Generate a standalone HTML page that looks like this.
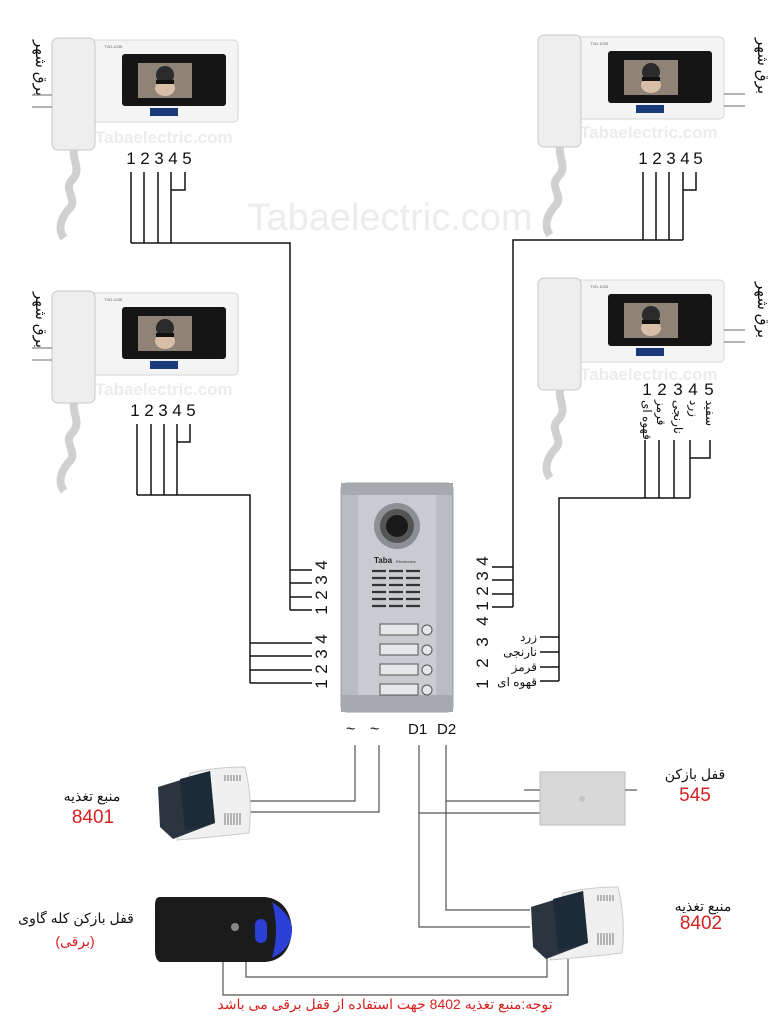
<!DOCTYPE html>
<html><head><meta charset="utf-8"><style>
html,body{margin:0;padding:0;background:#fff}
svg{display:block}
text{font-family:"Liberation Sans","Noto Sans CJK SC",sans-serif}
</style></head><body>
<svg width="781" height="1024" viewBox="0 0 781 1024" xmlns="http://www.w3.org/2000/svg">
<defs>
<g id="mon">
  <rect x="0" y="0" width="186" height="82" rx="4" fill="#f4f4f4" stroke="#d6d6d6"/>
  <rect x="0" y="-2" width="43" height="112" rx="6" fill="#eeeeee" stroke="#c8c8c8"/>
  <text x="52" y="8" font-size="4" fill="#666">TVD-1035</text>
  <rect x="70" y="14" width="104" height="52" rx="3" fill="#151515"/>
  <rect x="86" y="23" width="54" height="35" fill="#8f8378"/>
  <circle cx="113" cy="35" r="9" fill="#2b2b2b"/>
  <ellipse cx="113" cy="48" rx="10" ry="8" fill="#d9bfa8"/>
  <rect x="104" y="40" width="18" height="4" fill="#111"/>
  <rect x="98" y="68" width="28" height="8" fill="#1a3a7a"/>
  <path d="M22 110 c-2 10 8 20 -2 30 c-10 10 8 20 -4 30 c-8 10 -10 20 -4 28" stroke="#d0d0d0" stroke-width="8" fill="none"/>
</g>
<g id="psu">
  <path d="M35 8 Q60 2 90 2 Q98 35 94 68 Q60 72 22 75 Z" fill="#f0f0f0" stroke="#ccc"/>
  <g stroke="#777" stroke-width="1"><path d="M70 10v6M73 10v6M76 10v6M79 10v6M82 10v6M85 10v6"/><path d="M70 48v12M73 48v12M76 48v12M79 48v12M82 48v12M85 48v12"/></g>
  <path d="M3 22 L55 6 L60 58 L18 74 L5 62 Z" fill="#2b3540"/>
  <path d="M25 14 L55 6 L60 58 L30 66 Z" fill="#1d2a38"/>
</g>
</defs>

<!-- watermarks -->
<text x="390" y="230" font-size="38" fill="#ececec" text-anchor="middle">Tabaelectric.com</text>
<g font-size="17" fill="#ececec" font-weight="bold">
<text x="95" y="143">Tabaelectric.com</text>
<text x="95" y="395">Tabaelectric.com</text>
<text x="580" y="138">Tabaelectric.com</text>
<text x="580" y="380">Tabaelectric.com</text>
</g>

<use href="#mon" transform="translate(52,40)"/>
<use href="#mon" transform="translate(52,293)"/>
<use href="#mon" transform="translate(538,37)"/>
<use href="#mon" transform="translate(538,280)"/>

<g font-size="15" fill="#111">
<text transform="translate(36,40) rotate(90)">برق شهر</text>
<text transform="translate(36,292) rotate(90)">برق شهر</text>
<text transform="translate(758,38) rotate(90)">برق شهر</text>
<text transform="translate(758,282) rotate(90)">برق شهر</text>
</g>
<g stroke="#888" stroke-width="1.2">
<line x1="32" y1="95" x2="52" y2="95"/><line x1="32" y1="107" x2="52" y2="107"/>
<line x1="32" y1="348" x2="52" y2="348"/><line x1="32" y1="360" x2="52" y2="360"/>
<line x1="724" y1="94" x2="745" y2="94"/><line x1="724" y1="106" x2="745" y2="106"/>
<line x1="724" y1="330" x2="745" y2="330"/><line x1="724" y1="342" x2="745" y2="342"/>
</g>

<!-- numbers -->
<g font-size="17" fill="#111" text-anchor="middle">
<text x="131" y="164">1</text><text x="145" y="164">2</text><text x="159" y="164">3</text><text x="173" y="164">4</text><text x="187" y="164">5</text>
<text x="135" y="416">1</text><text x="149" y="416">2</text><text x="163" y="416">3</text><text x="177" y="416">4</text><text x="191" y="416">5</text>
<text x="643" y="164">1</text><text x="657" y="164">2</text><text x="671" y="164">3</text><text x="685" y="164">4</text><text x="698" y="164">5</text>
<text x="647" y="395">1</text><text x="662" y="395">2</text><text x="678" y="395">3</text><text x="693" y="395">4</text><text x="709" y="395">5</text>
</g>
<g font-size="12" fill="#111">
<text transform="translate(643,400) rotate(90)">قهوه ای</text>
<text transform="translate(657,400) rotate(90)">قرمز</text>
<text transform="translate(674,400) rotate(90)">نارنجی</text>
<text transform="translate(690,400) rotate(90)">زرد</text>
<text transform="translate(706,400) rotate(90)">سفید</text>
</g>

<g stroke="#111" stroke-width="1.5" fill="none">
<path d="M131 172V243M144 172V243M158 172V243M171 172V243M185 172V190H171"/>
<path d="M131 243H290V610"/>
<path d="M290 570H312M290 583H312M290 597H312M290 610H312"/>
<path d="M137 424V495M151 424V495M164 424V495M177 424V495M190 424V442H177"/>
<path d="M137 495H250V683"/>
<path d="M250 643H312M250 656H312M250 670H312M250 683H312"/>
<path d="M643 172V240M656 172V240M669 172V240M683 172V240M696 172V190H683"/>
<path d="M683 240H513V607"/>
<path d="M492 567H513M492 580H513M492 594H513M492 607H513"/>
<path d="M645 440V498M659 440V498M674 440V498M690 440V498M710 440V458H690"/>
<path d="M690 498H559V681"/>
<path d="M540 637H559M540 652H559M540 667H559M540 681H559"/>
</g>

<!-- panel labels -->
<g font-size="17" fill="#111" text-anchor="middle">
<text transform="translate(327,610) rotate(-90)">1</text>
<text transform="translate(327,595) rotate(-90)">2</text>
<text transform="translate(327,580) rotate(-90)">3</text>
<text transform="translate(327,565) rotate(-90)">4</text>
<text transform="translate(327,684) rotate(-90)">1</text>
<text transform="translate(327,669) rotate(-90)">2</text>
<text transform="translate(327,654) rotate(-90)">3</text>
<text transform="translate(327,639) rotate(-90)">4</text>
<text transform="translate(488,606) rotate(-90)">1</text>
<text transform="translate(488,591) rotate(-90)">2</text>
<text transform="translate(488,576) rotate(-90)">3</text>
<text transform="translate(488,561) rotate(-90)">4</text>
<text transform="translate(488,684) rotate(-90)">1</text>
<text transform="translate(488,663) rotate(-90)">2</text>
<text transform="translate(488,642) rotate(-90)">3</text>
<text transform="translate(488,621) rotate(-90)">4</text>
</g>
<g font-size="12" fill="#111" text-anchor="end">
<text x="537" y="641">زرد</text>
<text x="537" y="656">نارنجی</text>
<text x="537" y="671">قرمز</text>
<text x="537" y="686">قهوه ای</text>
</g>

<!-- door panel -->
<rect x="341" y="483" width="112" height="229" rx="6" fill="#b9bcc0" stroke="#9a9da2"/>
<rect x="358" y="483" width="78" height="229" fill="#c8cbcf"/>
<rect x="341" y="483" width="112" height="12" fill="#a6a9ad"/>
<rect x="341" y="695" width="112" height="17" fill="#a6a9ad"/>
<circle cx="397" cy="526" r="23" fill="#8c8f93"/>
<circle cx="397" cy="526" r="17" fill="#555"/>
<circle cx="397" cy="526" r="11" fill="#1a1a1a"/>
<text x="374" y="563" font-size="8" font-weight="bold" fill="#222">Taba</text>
<text x="396" y="563" font-size="4" fill="#333">Electronics</text>
<g stroke="#333" stroke-width="2.2">
<path d="M372 571h50M372 578h50M372 585h50M372 592h50M372 599h50M372 606h50" stroke-dasharray="14 3"/>
</g>
<g fill="#e6e7e9" stroke="#555">
<rect x="380" y="624" width="38" height="11"/><rect x="380" y="644" width="38" height="11"/>
<rect x="380" y="664" width="38" height="11"/><rect x="380" y="684" width="38" height="11"/>
<circle cx="427" cy="630" r="5"/><circle cx="427" cy="650" r="5"/><circle cx="427" cy="670" r="5"/><circle cx="427" cy="690" r="5"/>
</g>

<text x="346" y="734" font-size="16" fill="#111">~</text>
<text x="370" y="734" font-size="16" fill="#111">~</text>
<text x="408" y="734" font-size="15" fill="#111">D1</text>
<text x="437" y="734" font-size="15" fill="#111">D2</text>

<g stroke="#555" stroke-width="1.2" fill="none">
<path d="M355 745V801H250M379 745V812H250"/>
<path d="M419 745V927H530M446 745V910H530M446 801H540M419 813H540"/>
<path d="M246 958V977H547V955M223 958V995H568V955"/>
</g>

<use href="#psu" transform="translate(155,765)"/>
<use href="#psu" transform="translate(528,885)"/>

<rect x="540" y="772" width="85" height="53" fill="#d8d8d8" stroke="#bbb"/>
<line x1="524" y1="790" x2="540" y2="790" stroke="#999" stroke-width="2"/>
<line x1="625" y1="790" x2="637" y2="790" stroke="#999" stroke-width="2"/>
<circle cx="582" cy="799" r="3" fill="#c4c4c4"/>

<path d="M160 897H265Q290 900 292 930Q290 960 265 962H160Q155 960 155 950V905Q155 897 160 897Z" fill="#1b1b1b"/>
<path d="M272 902Q292 915 292 930Q292 948 272 958Q280 930 272 902Z" fill="#2c3fd6"/>
<rect x="255" y="919" width="12" height="24" rx="6" fill="#2c3fd6"/>
<circle cx="235" cy="927" r="4" fill="#888"/>

<g font-size="14" fill="#111" text-anchor="middle">
<text x="92" y="801">منبع تغذیه</text>
<text x="695" y="779">قفل بازکن</text>
<text x="703" y="911">منبع تغذیه</text>
<text x="76" y="923">قفل بازکن کله گاوی</text>
</g>
<g font-size="19" fill="#d82020" text-anchor="middle">
<text x="93" y="823">8401</text>
<text x="695" y="801">545</text>
<text x="701" y="929">8402</text>
</g>
<text x="75" y="946" font-size="14" fill="#d82020" text-anchor="middle">(برقی)</text>
<text x="385" y="1009" font-size="14" fill="#d82020" text-anchor="middle">توجه:منبع تغذیه 8402 جهت استفاده از قفل برقی می باشد</text>
</svg>
</body></html>
